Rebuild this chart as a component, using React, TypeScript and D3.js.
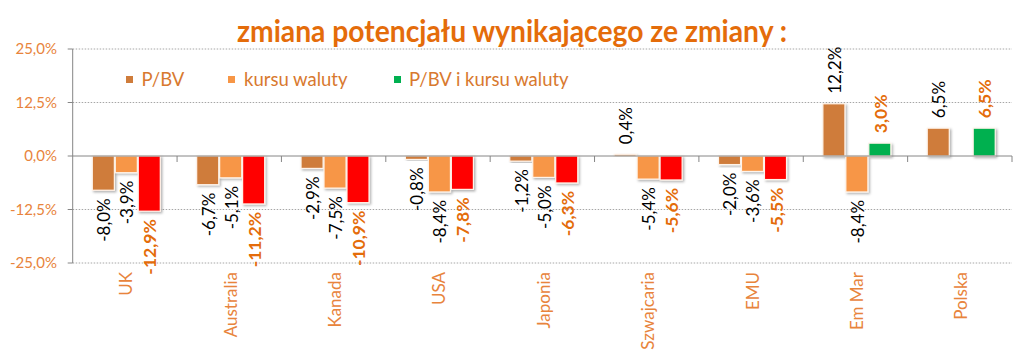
import React from "react";
import * as d3 from "d3";

const categories = ["UK", "Australia", "Kanada", "USA", "Japonia", "Szwajcaria", "EMU", "Em Mar", "Polska"];
const seriesNames = ["P/BV", "kursu waluty", "P/BV i kursu waluty"];
const pbv: (number | null)[] = [-8.0, -6.7, -2.9, -0.8, -1.2, 0.4, -2.0, 12.2, 6.5];
const fx: (number | null)[] = [-3.9, -5.1, -7.5, -8.4, -5.0, -5.4, -3.6, -8.4, null];
const combined: (number | null)[] = [-12.9, -11.2, -10.9, -7.8, -6.3, -5.6, -5.5, 3.0, 6.5];
const yTicks = [-25, -12.5, 0, 12.5, 25];
const yTickLabels = ["-25,0%", "-12,5%", "0,0%", "12,5%", "25,0%"];
const title = "zmiana potencjału wynikającego ze zmiany :";

const W = 1023;
const H = 357;
const FONT = "Lato, 'Open Sans', sans-serif";
const C_PBV = "#CF7C3B";
const C_FX = "#F79646";
const C_POS = "#00B050";
const C_NEG = "#FF0000";
const ORANGE_TXT = "#E46C0A";
const TICK_TXT = "#E8843C";

const fmt = (v: number) => v.toFixed(1).replace(".", ",") + "%";

export default function App() {
  const plotL = 72.7, plotR = 1012, plotT = 49, plotB = 263;
  const y = d3.scaleLinear().domain([-25, 25]).range([plotB, plotT]);
  const x0 = d3.scaleBand<string>().domain(categories).range([plotL, plotR]).paddingInner(0).paddingOuter(0);
  const bw = x0.bandwidth();
  const x1 = d3.scaleBand<string>().domain(seriesNames).range([19.6, 87.6]).paddingInner(0.04);
  const series = [
    { name: seriesNames[0], values: pbv, color: (v: number) => C_PBV, bold: false },
    { name: seriesNames[1], values: fx, color: (v: number) => C_FX, bold: false },
    { name: seriesNames[2], values: combined, color: (v: number) => (v < 0 ? C_NEG : C_POS), bold: true },
  ];
  const y0 = y(0);
  const legendItems = [
    { name: seriesNames[0], color: C_PBV, sx: 126, tx: 141.5 },
    { name: seriesNames[1], color: C_FX, sx: 228, tx: 244 },
    { name: seriesNames[2], color: C_POS, sx: 394, tx: 409 },
  ];

  return (
    <svg width={W} height={H} style={{ position: "absolute", left: 0, top: 0, background: "#fff" }} fontFamily={FONT}>
      <defs>
        <filter id="sh" x="-20%" y="-20%" width="150%" height="150%">
          <feDropShadow dx="1.5" dy="1.5" stdDeviation="1" floodColor="#000" floodOpacity="0.3" />
        </filter>
      </defs>
      <text x={512} y={42} textAnchor="middle" fontSize={30} fontWeight="bold" fill={ORANGE_TXT} textLength={550} lengthAdjust="spacingAndGlyphs">
        {title}
      </text>
      {/* gridlines */}
      {yTicks.filter((t) => t !== 0).map((t) => (
        <line key={t} x1={plotL} x2={plotR} y1={y(t)} y2={y(t)} stroke="#A6A6A6" strokeWidth={1} strokeDasharray="1.5,1.5" />
      ))}
      {/* y axis */}
      <line x1={plotL} x2={plotL} y1={plotT} y2={plotB} stroke="#868686" strokeWidth={1} />
      {yTicks.map((t, i) => (
        <g key={t}>
          <line x1={plotL - 5} x2={plotL} y1={y(t)} y2={y(t)} stroke="#868686" />
          <text x={57} y={y(t)} dy="0.35em" textAnchor="end" fontSize={15} fill={TICK_TXT}>
            {yTickLabels[i]}
          </text>
        </g>
      ))}
      {/* legend */}
      {legendItems.map((l) => (
        <g key={l.name}>
          <rect x={l.sx} y={76} width={7} height={7} fill={l.color} />
          <text x={l.tx} y={80} dy="0.35em" fontSize={18.5} fill="#D8792F">
            {l.name}
          </text>
        </g>
      ))}
      {/* bars */}
      {categories.map((c, ci) => (
        <g key={c}>
          {series.map((s) => {
            const v = s.values[ci];
            if (v === null || v === undefined) return null;
            const bx = (x0(c) as number) + (x1(s.name) as number);
            const top = Math.min(y(v), y0);
            const h = Math.abs(y(v) - y0);
            return (
              <rect key={s.name} x={bx} y={top} width={x1.bandwidth()} height={h} fill={s.color(v)} stroke="#FFF4EA" strokeWidth={1.2} filter="url(#sh)" />
            );
          })}
        </g>
      ))}
      {/* zero axis */}
      <line x1={plotL} x2={plotR} y1={y0} y2={y0} stroke="#868686" strokeWidth={1} />
      {d3.range(1, categories.length + 1).map((i) => (
        <line key={i} x1={plotL + i * bw} x2={plotL + i * bw} y1={y0} y2={y0 + 6} stroke="#868686" />
      ))}
      {/* data labels */}
      {categories.map((c, ci) => (
        <g key={c}>
          {series.map((s) => {
            const v = s.values[ci];
            if (v === null || v === undefined) return null;
            const cx = (x0(c) as number) + (x1(s.name) as number) + x1.bandwidth() / 2 + 1;
            const neg = v < 0;
            const ly = neg ? y(v) + 8 : y(v) - 10;
            return (
              <text
                key={s.name}
                transform={`translate(${cx},${ly}) rotate(-90)`}
                dy="0.35em"
                textAnchor={neg ? "end" : "start"}
                fontSize={s.bold ? 17.5 : 17}
                fontWeight={s.bold ? "bold" : "normal"}
                fill={s.bold ? ORANGE_TXT : "#000"}
              >
                {fmt(v)}
              </text>
            );
          })}
        </g>
      ))}
      {/* category labels */}
      {categories.map((c) => (
        <text
          key={c}
          transform={`translate(${(x0(c) as number) + bw / 2 + 1.5},${272}) rotate(-90)`}
          dy="0.35em"
          textAnchor="end"
          fontSize={17}
          fill={TICK_TXT}
        >
          {c}
        </text>
      ))}
    </svg>
  );
}
